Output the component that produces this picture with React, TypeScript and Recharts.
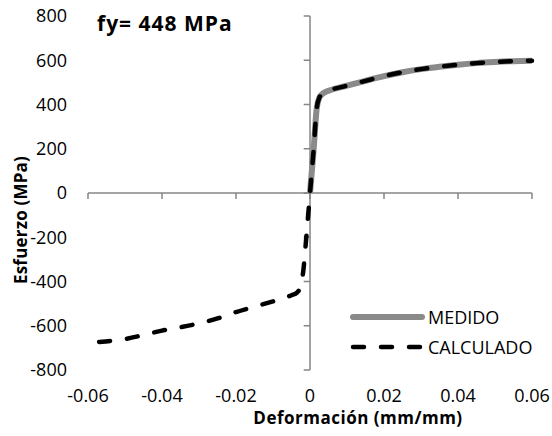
import { LineChart, Line, XAxis, YAxis, ReferenceLine } from 'recharts';

const xTicks = [-0.06, -0.04, -0.02, 0, 0.02, 0.04, 0.06];
const yTicks = [-800, -600, -400, -200, 0, 200, 400, 600, 800];

// measured curve (tension only)
const medidoX = [0, 0.001, 0.0018, 0.0025, 0.0035, 0.005, 0.01, 0.015, 0.02, 0.025, 0.03, 0.035, 0.04, 0.045, 0.05, 0.055, 0.06];
const medidoY = [0, 200, 380, 430, 450, 462, 485, 507, 528, 546, 560, 571, 580, 587, 592, 596, 598];

// calculated curve (compression + tension)
const calcX = [-0.057, -0.05, -0.045, -0.04, -0.035, -0.03, -0.025, -0.02, -0.015, -0.01, -0.007, -0.005, -0.0035, -0.0025, -0.0018, -0.001, 0, 0.001, 0.0018, 0.0025, 0.0035, 0.005, 0.01, 0.015, 0.02, 0.025, 0.03, 0.035, 0.04, 0.045, 0.05, 0.055, 0.06];
const calcY = [-673, -660, -642, -622, -607, -589, -567, -538, -514, -490, -475, -462, -450, -420, -350, -200, 0, 200, 380, 430, 450, 462, 485, 507, 528, 546, 560, 571, 580, 587, 592, 596, 598];

const series = [
  { name: 'MEDIDO', color: '#8a8a8a', width: 6, dash: undefined as string | undefined },
  { name: 'CALCULADO', color: '#000', width: 4.5, dash: '11 17' },
];

const medido = medidoX.map((x, i) => ({ x, y: medidoY[i] }));
const calculado = calcX.map((x, i) => ({ x, y: calcY[i] }));

const FONT = '"Open Sans", sans-serif';
const AXIS = '#868686';

function LegendBox() {
  return (
    <div style={{ position: 'absolute', left: 350, top: 302, fontFamily: FONT, fontSize: 18, color: '#000' }}>
      {series.map((r) => (
        <div key={r.name} style={{ display: 'flex', alignItems: 'center', height: 30 }}>
          <svg width={76} height={12}>
            <line x1={3} y1={6} x2={72} y2={6} stroke={r.color} strokeWidth={r.width} strokeDasharray={r.dash} strokeLinecap="round" />
          </svg>
          <span style={{ marginLeft: 2 }}>{r.name}</span>
        </div>
      ))}
    </div>
  );
}

export default function App() {
  return (
    <div style={{ position: 'absolute', left: 0, top: 0, width: 552, height: 436, background: '#fff', fontFamily: FONT }}>
      <LineChart width={552} height={436} margin={{ top: 16, right: 20, left: 0, bottom: 0 }}>
        <XAxis
          type="number"
          dataKey="x"
          domain={[-0.06, 0.06]}
          ticks={xTicks}
          interval={0}
          axisLine={false}
          tickLine={false}
          tickMargin={13}
          height={66}
          tick={{ fill: '#000', fontSize: 18, fontFamily: FONT }}
          tickFormatter={(v: number) => String(v)}
          label={{
            content: (props: any) => {
              const vb = props.viewBox;
              return (
                <text x={vb.x + vb.width / 2 + 48} y={vb.y + 54} textAnchor="middle" fontSize={17} letterSpacing={0.5} fontWeight={700} fontFamily={FONT} fill="#000">
                  Deformación (mm/mm)
                </text>
              );
            },
          }}
        />
        <YAxis
          type="number"
          dataKey="y"
          domain={[-800, 800]}
          ticks={yTicks}
          interval={0}
          axisLine={false}
          tickLine={false}
          tickMargin={15}
          width={88}
          tick={{ fill: '#000', fontSize: 18, fontFamily: FONT }}
          label={{
            content: (props: any) => {
              const vb = props.viewBox;
              const cx = vb.x + 20;
              const cy = vb.y + vb.height / 2 + 27;
              return (
                <text x={cx} y={cy} transform={`rotate(-90, ${cx}, ${cy})`} textAnchor="middle" dominantBaseline="central" fontSize={17} letterSpacing={0.2} fontWeight={700} fontFamily={FONT} fill="#000">
                  Esfuerzo (MPa)
                </text>
              );
            },
          }}
        />
        <ReferenceLine y={0} stroke={AXIS} strokeWidth={1.5} />
        <ReferenceLine x={0} stroke={AXIS} strokeWidth={1.5} />
        {xTicks.map((t) => (
          <ReferenceLine key={`xt${t}`} segment={[{ x: t, y: 0 }, { x: t, y: -27 }]} stroke={AXIS} strokeWidth={1.5} />
        ))}
        {yTicks.map((t) => (
          <ReferenceLine key={`yt${t}`} segment={[{ x: -0.0017, y: t }, { x: 0, y: t }]} stroke={AXIS} strokeWidth={1.5} />
        ))}
        <Line
          data={medido}
          dataKey="y"
          name={series[0].name}
          type="monotone"
          stroke={series[0].color}
          strokeWidth={series[0].width}
          dot={false}
          isAnimationActive={false}
        />
        <Line
          data={calculado}
          dataKey="y"
          name={series[1].name}
          type="monotone"
          stroke={series[1].color}
          strokeWidth={series[1].width}
          strokeDasharray={series[1].dash}
          strokeLinecap="round"
          dot={false}
          isAnimationActive={false}
        />
      </LineChart>
      <div style={{ position: 'absolute', left: 97, top: 13, fontSize: 21, letterSpacing: 1, fontWeight: 700, lineHeight: '20px' }}>
        fy= 448 MPa
      </div>
      <LegendBox />
    </div>
  );
}
